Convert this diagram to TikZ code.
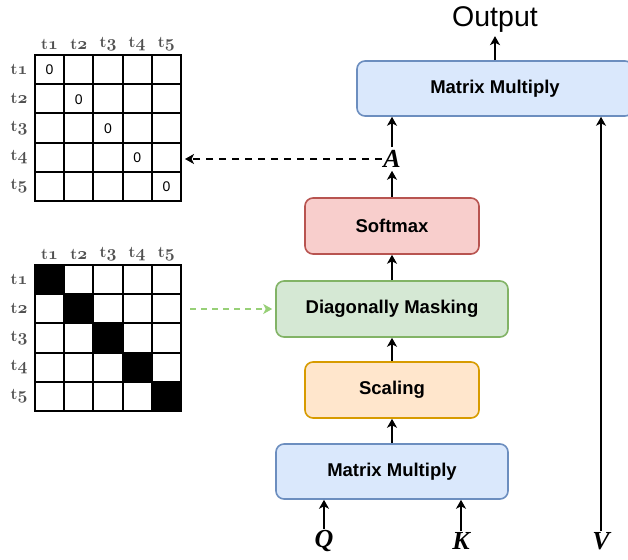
\documentclass[tikz,border=0pt]{standalone}
\usepackage{fontspec}
\setsansfont{Liberation Sans}
\renewcommand\familydefault{\sfdefault}
\newfontfamily\timesf{Liberation Serif}
\usetikzlibrary{arrows.meta}
\definecolor{bluef}{HTML}{DAE8FC}\definecolor{blued}{HTML}{6C8EBF}
\definecolor{redf}{HTML}{F8CECC}\definecolor{redd}{HTML}{B85450}
\definecolor{greenf}{HTML}{D5E8D4}\definecolor{greend}{HTML}{82B366}
\definecolor{orangef}{HTML}{FFE6CC}\definecolor{oranged}{HTML}{D79B00}
\definecolor{greenarr}{HTML}{97D077}
\definecolor{hdrgray}{HTML}{505050}
\newcommand{\hdr}[1]{{\rmfamily\bfseries t}{\usefont{OML}{cmm}{b}{it}#1}}
\begin{document}
\begin{tikzpicture}[x=1pt,y=-1pt,
  box/.style={draw, line width=1.6pt, rounded corners=8pt, align=center,
    font=\fontsize{18.5}{22}\selectfont\bfseries},
  arr/.style={line width=2.2pt, -{Stealth[length=9pt,width=10pt,inset=2.5pt]}},
  gridl/.style={line width=2pt, line cap=rect},
  var/.style={inner sep=1pt, font=\timesf\fontsize{26}{30}\selectfont\bfseries\itshape},
  hdrlab/.style={inner sep=0pt, text=hdrgray, font=\fontsize{16}{17}\selectfont},
  zero/.style={inner sep=0pt, font=\fontsize{14}{16}\selectfont}]
\clip (0,0) rectangle (628,559);
% boxes
\node[box, fill=bluef, draw=blued, minimum width=276pt, minimum height=55pt] (mm2) at (495,88.5) {Matrix Multiply};
\node[box, fill=redf, draw=redd, minimum width=174pt, minimum height=56pt] (sm) at (392,226) {Softmax};
\node[box, fill=greenf, draw=greend, minimum width=232pt, minimum height=56pt] (dm) at (392,309) {Diagonally Masking};
\node[box, fill=orangef, draw=oranged, minimum width=174pt, minimum height=56pt] (sc) at (392,390) {Scaling};
\node[box, fill=bluef, draw=blued, minimum width=232pt, minimum height=55pt] (mm1) at (392,471.5) {Matrix Multiply};
% labels
\node[inner sep=0pt, anchor=base, font=\fontsize{28.5}{30}\selectfont] (out) at (495,27) {Output};
\node[var] (A) at (392,159) {A};
\node[var] (Q) at (324,541) {Q};
\node[var] (K) at (461,541) {K};
\node[var] (V) at (601,541) {V};
% arrows
\draw[arr, shorten >=3pt] (mm2.north) -- (out.south);
\draw[arr, shorten <=2pt] (A.north) -- (A.north |- mm2.south);
\draw[arr, shorten >=2pt] (sm.north) -- (A.south);
\draw[arr] (dm.north) -- (sm.south);
\draw[arr] (sc.north) -- (dm.south);
\draw[arr] (mm1.north) -- (sc.south);
\draw[arr] (Q.north) -- (Q.north |- mm1.south);
\draw[arr] (K.north) -- (K.north |- mm1.south);
\draw[arr] (V.north) -- (V.north |- mm2.south);
% grids
\coordinate (g1r) at (185,159);
\coordinate (g2r) at (190,309);
\draw[arr, dash pattern=on 7pt off 6pt] (A.west) -- (A.west -| g1r);
\draw[arr, greenarr, line width=2pt, dash pattern=on 6pt off 5pt, shorten >=3pt] (g2r) -- (dm.west);
\foreach \i in {0,...,4} {
  \fill (35+29.2*\i,265+29.2*\i) rectangle ++(29.2,29.2);
  \node[zero] (z\i) at (49.6+29.2*\i,70+29.2*\i) {0};
}
\foreach \i in {0,...,5} {
  \draw[gridl] (35+29.2*\i,55) -- (35+29.2*\i,201);
  \draw[gridl] (35,55+29.2*\i) -- (181,55+29.2*\i);
  \draw[gridl] (35+29.2*\i,265) -- (35+29.2*\i,411);
  \draw[gridl] (35,265+29.2*\i) -- (181,265+29.2*\i);
}
\foreach \i in {1,...,5} {
  \node[hdrlab] (ct\i) at (20.4+29.2*\i,44.5) {\hdr{\i}};
  \node[hdrlab] (rt\i) at (19,40.4+29.2*\i) {\hdr{\i}};
  \node[hdrlab] (cb\i) at (20.4+29.2*\i,254.5) {\hdr{\i}};
  \node[hdrlab] (rb\i) at (19,250.4+29.2*\i) {\hdr{\i}};
}
\end{tikzpicture}
\end{document}
